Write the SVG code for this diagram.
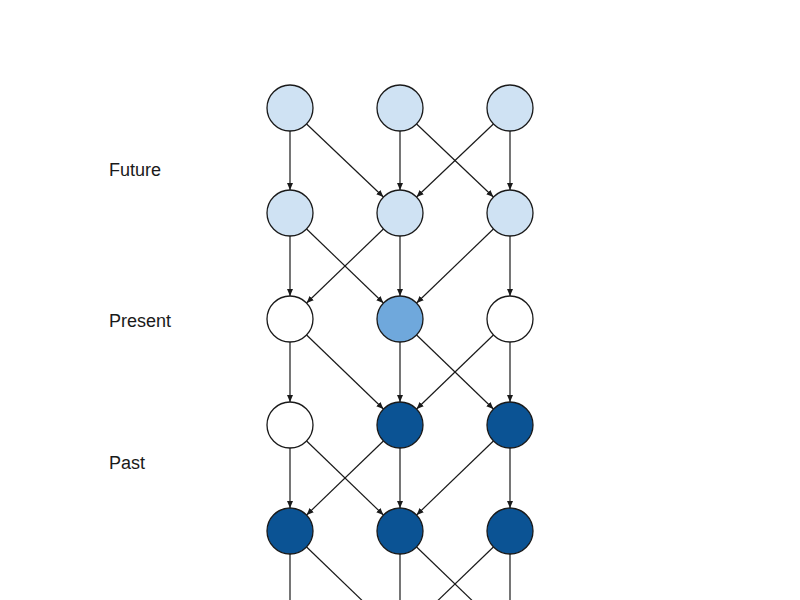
<svg xmlns="http://www.w3.org/2000/svg" width="800" height="600" viewBox="0 0 800 600">
<style>
.n{stroke:#1a1a1a;stroke-width:1.3}
.lb{fill:#cfe2f3}.md{fill:#6fa8dc}.dk{fill:#0b5394}.wh{fill:#fff}
.e{stroke:#1a1a1a;stroke-width:1.2;fill:none;marker-end:url(#a)}
.o{stroke:#1a1a1a;stroke-width:1.2;fill:none}
.t{font-family:"Liberation Sans",Arial,sans-serif;font-size:18px;fill:#1a1a1a}
</style>
<defs>
<marker id="a" markerWidth="8" markerHeight="8" refX="7" refY="3" orient="auto" markerUnits="userSpaceOnUse">
<path d="M0,0 L7,3 L0,6 z" fill="#1a1a1a"/>
</marker>
</defs>
<rect width="800" height="600" fill="#fff"/>
<g id="labels">
<text class="t" x="109" y="176">Future</text>
<text class="t" x="109" y="327">Present</text>
<text class="t" x="109" y="469">Past</text>
</g>
<g id="connectors">
<line class="e" x1="290" y1="131" x2="290" y2="190"/>
<line class="e" x1="306.6" y1="124" x2="383.4" y2="197"/>
<line class="e" x1="400" y1="131" x2="400" y2="190"/>
<line class="e" x1="416.6" y1="124" x2="493.4" y2="197"/>
<line class="e" x1="493.4" y1="124" x2="416.6" y2="197"/>
<line class="e" x1="510" y1="131" x2="510" y2="190"/>

<line class="e" x1="290" y1="236" x2="290" y2="296"/>
<line class="e" x1="306.6" y1="229" x2="383.4" y2="303"/>
<line class="e" x1="383.4" y1="229" x2="306.6" y2="303"/>
<line class="e" x1="400" y1="236" x2="400" y2="296"/>
<line class="e" x1="493.4" y1="229" x2="416.6" y2="303"/>
<line class="e" x1="510" y1="236" x2="510" y2="296"/>

<line class="e" x1="290" y1="342" x2="290" y2="402"/>
<line class="e" x1="306.6" y1="335" x2="383.4" y2="409"/>
<line class="e" x1="400" y1="342" x2="400" y2="402"/>
<line class="e" x1="416.6" y1="335" x2="493.4" y2="409"/>
<line class="e" x1="493.4" y1="335" x2="416.6" y2="409"/>
<line class="e" x1="510" y1="342" x2="510" y2="402"/>

<line class="e" x1="290" y1="448" x2="290" y2="508"/>
<line class="e" x1="306.6" y1="441" x2="383.4" y2="515"/>
<line class="e" x1="383.4" y1="441" x2="306.6" y2="515"/>
<line class="e" x1="400" y1="448" x2="400" y2="508"/>
<line class="e" x1="493.4" y1="441" x2="416.6" y2="515"/>
<line class="e" x1="510" y1="448" x2="510" y2="508"/>

<line class="o" x1="290" y1="554" x2="290" y2="610"/>
<line class="o" x1="306.6" y1="547" x2="400" y2="637"/>
<line class="o" x1="400" y1="554" x2="400" y2="610"/>
<line class="o" x1="416.6" y1="547" x2="510" y2="637"/>
<line class="o" x1="493.4" y1="547" x2="400" y2="637"/>
<line class="o" x1="510" y1="554" x2="510" y2="610"/>
</g>
<g id="n11"><circle class="n lb" cx="290" cy="108" r="23"/></g>
<g id="n12"><circle class="n lb" cx="400" cy="108" r="23"/></g>
<g id="n13"><circle class="n lb" cx="510" cy="108" r="23"/></g>
<g id="n21"><circle class="n lb" cx="290" cy="213" r="23"/></g>
<g id="n22"><circle class="n lb" cx="400" cy="213" r="23"/></g>
<g id="n23"><circle class="n lb" cx="510" cy="213" r="23"/></g>
<g id="n31"><circle class="n wh" cx="290" cy="319" r="23"/></g>
<g id="n32"><circle class="n md" cx="400" cy="319" r="23"/></g>
<g id="n33"><circle class="n wh" cx="510" cy="319" r="23"/></g>
<g id="n41"><circle class="n wh" cx="290" cy="425" r="23"/></g>
<g id="n42"><circle class="n dk" cx="400" cy="425" r="23"/></g>
<g id="n43"><circle class="n dk" cx="510" cy="425" r="23"/></g>
<g id="n51"><circle class="n dk" cx="290" cy="531" r="23"/></g>
<g id="n52"><circle class="n dk" cx="400" cy="531" r="23"/></g>
<g id="n53"><circle class="n dk" cx="510" cy="531" r="23"/></g>
</svg>
